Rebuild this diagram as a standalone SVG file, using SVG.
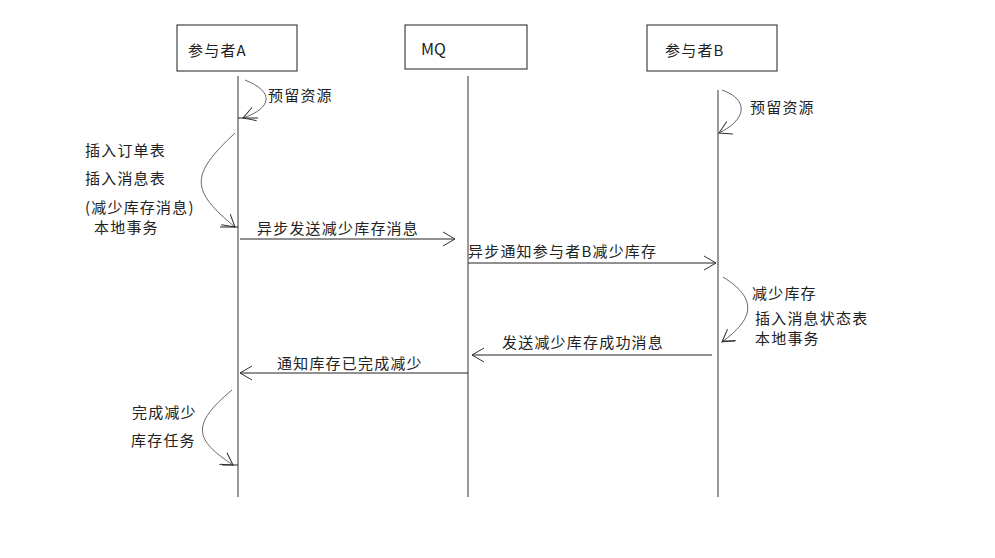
<svg xmlns="http://www.w3.org/2000/svg" width="995" height="558" viewBox="0 0 995 558">
<style>
.box{fill:#fff;stroke:#444;stroke-width:1.2}
.life{stroke:#555;stroke-width:1.2;fill:none}
.msg{stroke:#222;stroke-width:1;fill:none}
.self{stroke:#666;stroke-width:1;fill:none}
text{font-family:"Noto Sans CJK SC","Microsoft YaHei",sans-serif;font-size:15px;letter-spacing:1.2px;fill:#222}
.latin{letter-spacing:0;font-size:16px}
</style>
<defs>
<marker id="open" markerWidth="14" markerHeight="16" refX="12" refY="8" orient="auto" markerUnits="userSpaceOnUse">
<path d="M0,1 L12,8 L0,15" fill="none" stroke="#333" stroke-width="1"/>
</marker>
</defs>
<rect width="995" height="558" fill="#fff"/>
<g id="participantA">
<rect class="box" x="177" y="25" width="120" height="46"/>
<text x="188" y="56">参与者A</text>
</g>
<g id="mq">
<rect class="box" x="405" y="25" width="122" height="44"/>
<text class="latin" x="421" y="55">MQ</text>
</g>
<g id="participantB">
<rect class="box" x="647" y="25" width="130" height="46"/>
<text x="665" y="56">参与者B</text>
</g>
<g id="lifelines">
<line class="life" x1="238" y1="76" x2="238" y2="497"/>
<line class="life" x1="468" y1="76" x2="468" y2="497"/>
<line class="life" x1="718" y1="90" x2="718" y2="497"/>
</g>
<g id="connectors">
<path class="self" d="M245,80 C275,92 272,108 243,118" marker-end="url(#open)"/>
<line class="msg" x1="238" y1="118" x2="258" y2="118"/>
<path class="self" d="M722,90 C750,100 746,120 719,133" marker-end="url(#open)"/>
<path class="self" d="M235,133 C190,175 190,190 235,227" marker-end="url(#open)"/>
<line class="msg" x1="220" y1="227" x2="238" y2="227"/>
<line class="msg" x1="240" y1="239" x2="455" y2="239" marker-end="url(#open)"/>
<line class="msg" x1="468" y1="263" x2="716" y2="263" marker-end="url(#open)"/>
<path class="self" d="M723,277 C760,300 752,320 722,342" marker-end="url(#open)"/>
<line class="msg" x1="722" y1="341" x2="735" y2="341"/>
<line class="msg" x1="712" y1="355" x2="472" y2="355" marker-end="url(#open)"/>
<line class="msg" x1="468" y1="373" x2="240" y2="373" marker-end="url(#open)"/>
<path class="self" d="M232,390 C190,425 195,440 233,465" marker-end="url(#open)"/>
<line class="msg" x1="222" y1="465" x2="238" y2="465"/>
</g>
<g id="labels">
<text x="268" y="101">预留资源</text>
<text x="750" y="113">预留资源</text>
<text x="85" y="156">插入订单表</text>
<text x="85" y="184">插入消息表</text>
<text x="85" y="213">(减少库存消息)</text>
<text x="94" y="233">本地事务</text>
<text x="257" y="234">异步发送减少库存消息</text>
<text x="468" y="257">异步通知参与者B减少库存</text>
<text x="752" y="299">减少库存</text>
<text x="755" y="324">插入消息状态表</text>
<text x="755" y="344">本地事务</text>
<text x="502" y="348">发送减少库存成功消息</text>
<text x="277" y="369">通知库存已完成减少</text>
<text x="132" y="418">完成减少</text>
<text x="131" y="446">库存任务</text>
</g>
</svg>
